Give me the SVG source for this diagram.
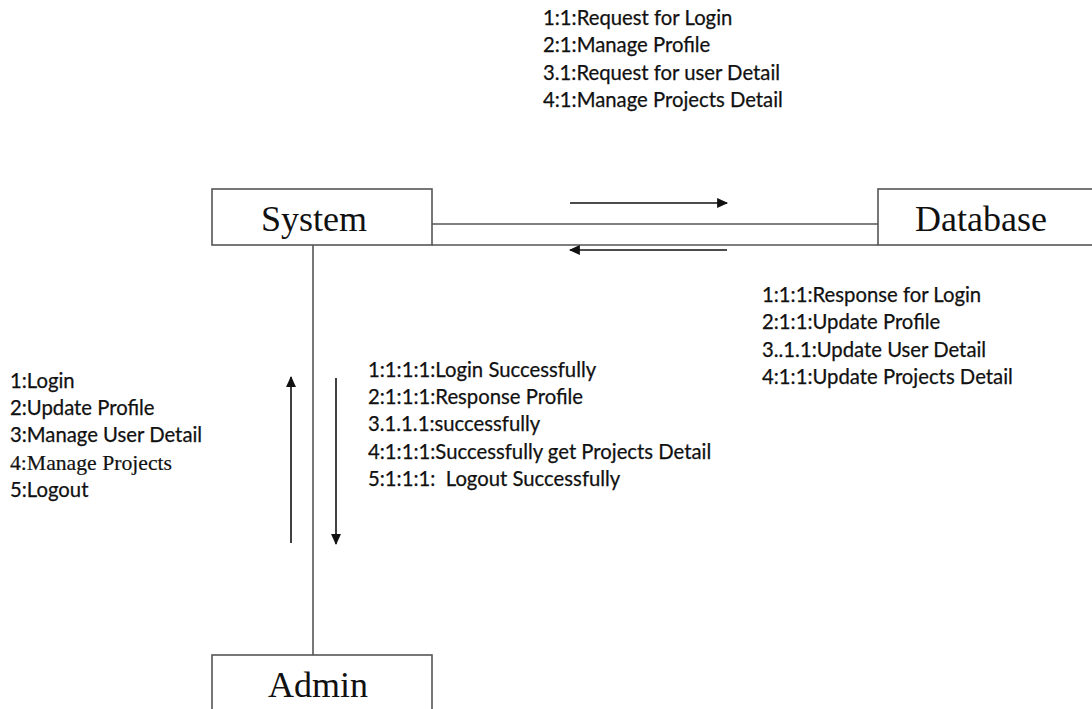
<svg xmlns="http://www.w3.org/2000/svg" width="1092" height="709" viewBox="0 0 1092 709">
  <style>
    .box { fill: #ffffff; stroke: #555555; stroke-width: 1.6; }
    .title { font-family: "Liberation Serif", "Times New Roman", serif; font-size: 36px; fill: #111111; text-anchor: middle; }
    .lbl { font-family: Lato, "Open Sans", sans-serif; font-size: 20.3px; fill: #111111; stroke: #111111; stroke-width: 0.25; }
    .lblserif { font-family: "Liberation Serif", "Times New Roman", serif; font-size: 21.7px; fill: #111111; stroke: #111111; stroke-width: 0.2; }
    .link { stroke: #555555; stroke-width: 1.6; fill: none; }
    .msg { stroke: #111111; stroke-width: 1.6; fill: none; }
  </style>
  <defs>
    <marker id="headL" viewBox="0 0 10 10" refX="9" refY="5" markerWidth="12" markerHeight="11" orient="auto" markerUnits="userSpaceOnUse">
      <path d="M0,0.5 L10,5 L0,9.5 Z" fill="#111111"/>
    </marker>
  </defs>
  <rect width="1092" height="709" fill="#ffffff"/>

  <!-- links and messages -->
  <g id="connectors">
    <line class="link" x1="432" y1="224" x2="878" y2="224"/>
    <line class="link" x1="432" y1="245" x2="878" y2="245" stroke="#888888" stroke-width="1.2"/>
    <line class="link" x1="313" y1="245" x2="313" y2="655"/>
    <line class="msg" x1="570" y1="203" x2="727" y2="203" marker-end="url(#headL)"/>
    <line class="msg" x1="727" y1="250" x2="570" y2="250" stroke-width="2.6" marker-end="url(#headL)"/>
    <line class="msg" x1="291" y1="543" x2="291" y2="377" marker-end="url(#headL)"/>
    <line class="msg" x1="336" y1="378" x2="336" y2="544" marker-end="url(#headL)"/>
  </g>

  <g id="system">
    <rect class="box" x="212" y="189" width="220" height="56"/>
    <text class="title" x="314" y="231">System</text>
  </g>
  <g id="database">
    <rect class="box" x="878" y="189" width="230" height="56"/>
    <text class="title" x="981" y="231">Database</text>
  </g>
  <g id="admin">
    <rect class="box" x="212" y="655" width="220" height="70"/>
    <text class="title" x="318" y="697">Admin</text>
  </g>

  <g id="labels-system-to-database">
    <text class="lbl" x="543" y="25">1:1:Request for Login</text>
    <text class="lbl" x="543" y="52">2:1:Manage Profile</text>
    <text class="lbl" x="543" y="80">3.1:Request for user Detail</text>
    <text class="lbl" x="543" y="107">4:1:Manage Projects Detail</text>
  </g>
  <g id="labels-database-to-system">
    <text class="lbl" x="762" y="302">1:1:1:Response for Login</text>
    <text class="lbl" x="762" y="329">2:1:1:Update Profile</text>
    <text class="lbl" x="762" y="357">3..1.1:Update User Detail</text>
    <text class="lbl" x="762" y="384">4:1:1:Update Projects Detail</text>
  </g>
  <g id="labels-admin-to-system">
    <text class="lbl" x="10" y="388">1:Login</text>
    <text class="lbl" x="10" y="415">2:Update Profile</text>
    <text class="lbl" x="10" y="442">3:Manage User Detail</text>
    <text class="lblserif" x="10" y="470">4:Manage Projects</text>
    <text class="lbl" x="10" y="497">5:Logout</text>
  </g>
  <g id="labels-system-to-admin">
    <text class="lbl" x="368" y="377">1:1:1:1:Login Successfully</text>
    <text class="lbl" x="368" y="404">2:1:1:1:Response Profile</text>
    <text class="lbl" x="368" y="431">3.1.1.1:successfully</text>
    <text class="lbl" x="368" y="459">4:1:1:1:Successfully get Projects Detail</text>
    <text class="lbl" x="368" y="486" xml:space="preserve">5:1:1:1:  Logout Successfully</text>
  </g>
</svg>
